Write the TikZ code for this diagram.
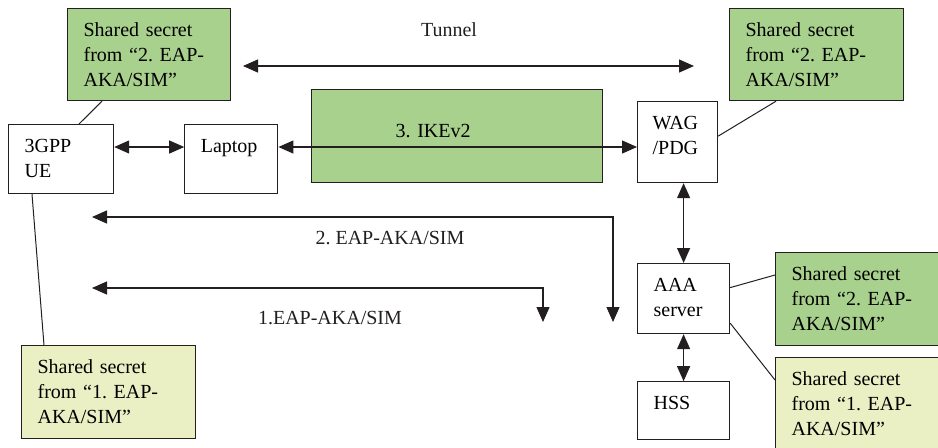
\documentclass[tikz,border=0pt]{standalone}
\usepackage{fontspec}
\setmainfont{Liberation Serif}
\frenchspacing
\usepackage{tikz}
\usetikzlibrary{arrows.meta,positioning}
\definecolor{linegray}{HTML}{231F20}
\definecolor{secretgreen}{HTML}{A9D18E}
\definecolor{seedgreen}{HTML}{EBF0C4}
\tikzset{
  unitbox/.style={draw=linegray, line width=0.6pt, rectangle, anchor=north west, align=left, inner xsep=8pt, inner ysep=0pt, text height=14pt, fill=white, font=\fontsize{10}{12.5}\selectfont},
  secretbox/.style={unitbox, fill=secretgreen, text width=71pt, text depth=32.5pt},
  seedbox/.style={unitbox, fill=seedgreen, text width=71pt, text depth=32.5pt},
  msglabel/.style={inner sep=0pt, font=\fontsize{10}{12.5}\selectfont, text=linegray},
  signal/.style={<->, line width=0.6pt, draw=linegray, >={Triangle[length=7.5pt,width=6.5pt]}},
  link/.style={line width=0.5pt, draw=linegray}
}

\begin{document}
\begin{tikzpicture}[x=0.5pt, y=-0.5pt]
  \useasboundingbox (0,0) rectangle (938,447);
  \clip (0,0) rectangle (938,447);
  % boxes
  \node[secretbox, text width=65.5pt, text depth=32pt] (ss2ue) at (67,8) {Shared secret\\from “2. EAP-\\AKA/SIM”};
  \node[unitbox, text width=36.5pt, text depth=20.5pt] (ue) at (8,124) {3GPP\\UE};
  \node[unitbox, text width=30.5pt, text depth=20.5pt, anchor=west, right=35pt of ue] (laptop) {Laptop};
  \node[unitbox, fill=secretgreen, text width=129.5pt, text height=24pt, text depth=22.5pt] (ike) at (311,89) {\hspace*{34pt}3. IKEv2};
  \node[unitbox, text width=25pt, inner xsep=7.5pt, text depth=26.5pt] (wag) at (637,101) {WAG\\/PDG};
  \node[secretbox, text depth=32pt] (ssw) at (729,8) {Shared secret\\from “2. EAP-\\AKA/SIM”};
  \node[unitbox, text width=30pt, text depth=21pt] (aaa) at (637,263) {AAA\\server};
  \node[unitbox, text width=30pt, text depth=15pt, anchor=north, below=23.5pt of aaa] (hss) {HSS};
  \node[secretbox] (ssa2) at (775,252) {Shared secret\\from “2. EAP-\\AKA/SIM”};
  \node[seedbox] (ssa1) at (775,357) {Shared secret\\from “1. EAP-\\AKA/SIM”};
  \node[seedbox] (ss1ue) at (21,345) {Shared secret\\from “1. EAP-\\AKA/SIM”};
  % labels
  \node[msglabel] (tunnel) at (449,30) {Tunnel};
  \node[msglabel] (eap2lbl) at (390,238) {2. EAP-AKA/SIM};
  \node[msglabel] (eap1lbl) at (330,318) {1.EAP-AKA/SIM};
  % free ends
  \coordinate (tunl) at (243,66);
  \coordinate (tunr) at (694,66);
  \coordinate (lvl) at (0,147);
  \coordinate (eap2left) at (92,217);
  \coordinate (eap2end) at (613,322);
  \coordinate (eap1left) at (92,288);
  \coordinate (eap1end) at (543,322);
  % arrows
  \draw[signal] (tunl) -- (tunr);
  \draw[signal] (ue.east |- lvl) -- (laptop.west |- lvl);
  \draw[signal] (laptop.east |- lvl) -- (wag.west |- lvl);
  \draw[signal] (aaa.north |- wag.south) -- (aaa.north);
  \draw[signal] (aaa.south) -- (hss.north);
  \draw[signal] (eap2left) -| (eap2end);
  \draw[signal] (eap1left) -| (eap1end);
  % secret links
  \draw[link] ([xshift=17.5pt]ss2ue.south west) -- ([xshift=35.5pt]ue.north west);
  \draw[link] ([xshift=23.5pt]ssw.south west) -- ([yshift=3pt]wag.east);
  \draw[link] ([yshift=5.5pt]aaa.east) -- ([yshift=-11.5pt]ssa2.north west);
  \draw[link] ([yshift=5.5pt]aaa.south east) -- ([yshift=-11.5pt]ssa1.north west);
  \draw[link] ([xshift=12pt]ue.south west) -- ([xshift=11.5pt]ss1ue.north west);
\end{tikzpicture}
\end{document}
